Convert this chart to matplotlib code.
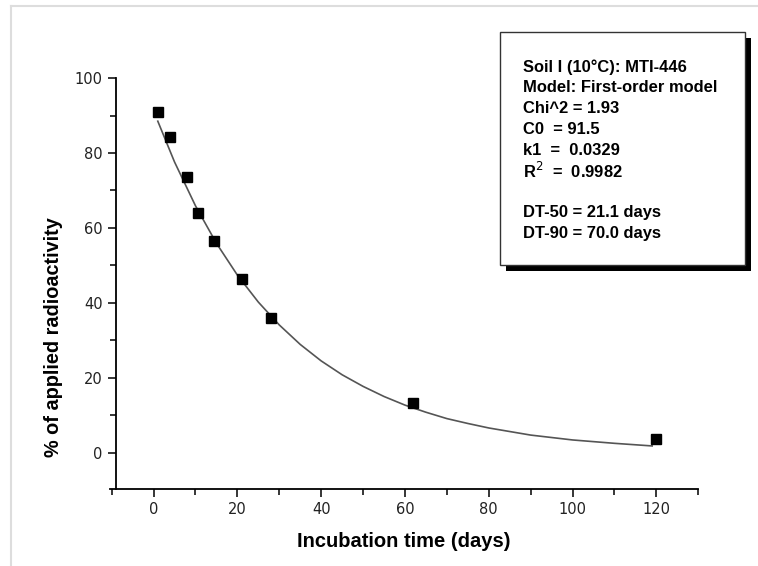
import matplotlib
matplotlib.use("Agg")
import matplotlib.pyplot as plt
from matplotlib.patches import Rectangle
from matplotlib.lines import Line2D

# measured residues (days, % of applied radioactivity)
days = [1, 4, 8, 10.5, 14.5, 21, 28, 62, 120]
residue = [91.0, 84.3, 73.5, 63.9, 56.5, 46.3, 36.0, 13.2, 3.6]

# fitted first-order curve
fit_days = [1, 5, 10, 15, 20, 25, 30, 35, 40, 45, 50, 55, 60, 65, 70, 75, 80, 90, 100, 110, 119]
fit_vals = [88.5, 77.6, 65.9, 55.9, 47.4, 40.2, 34.1, 28.9, 24.5, 20.8, 17.7, 15.0,
            12.7, 10.8, 9.1, 7.8, 6.6, 4.7, 3.4, 2.5, 1.8]

x_ticks = [0, 20, 40, 60, 80, 100, 120]
y_ticks = [0, 20, 40, 60, 80, 100]

info_lines = [
    "Soil I (10°C): MTI-446",
    "Model: First-order model",
    "Chi^2 = 1.93",
    "C0  = 91.5",
    "k1  =  0.0329",
    "R$^2$  =  0.9982",
    "",
    "DT-50 = 21.1 days",
    "DT-90 = 70.0 days",
]

fig = plt.figure(figsize=(7.58, 5.66), dpi=100)
ax = fig.add_axes([0.1446, 0.136, 0.7766, 0.726])

ax.plot(fit_days, fit_vals, color="#555555", linewidth=1.2, zorder=2)
ax.plot(days, residue, linestyle="none", marker="s", markersize=6.5,
        color="black", zorder=3)

ax.set_xlim(-10.5, 130)
ax.set_ylim(-9.7, 100)
ax.spines["left"].set_position(("data", -9))
ax.spines["top"].set_visible(False)
ax.spines["right"].set_visible(False)
for s in ["left", "bottom"]:
    ax.spines[s].set_linewidth(1.3)

ax.set_xticks(x_ticks)
ax.set_xticks(range(-10, 131, 10), minor=True)
ax.set_yticks(y_ticks)
ax.set_yticks(range(10, 100, 20), minor=True)
ax.tick_params(which="major", length=6, width=1.1, direction="out")
ax.tick_params(which="minor", length=4, width=1.1, direction="out")

tick_font = ["Liberation Sans Narrow", "DejaVu Sans"]
for lab in ax.get_xticklabels() + ax.get_yticklabels():
    lab.set_family(tick_font)
    lab.set_fontsize(10.5)
    lab.set_color("#222222")

label_font = ["Liberation Sans", "DejaVu Sans"]
ax.set_xlabel("Incubation time (days)", fontsize=14.5, fontweight="bold",
              family=label_font, labelpad=11)
ax.set_ylabel("% of applied radioactivity", fontsize=14.3, fontweight="bold",
              family=label_font)
ax.yaxis.set_label_coords(-0.079, 0.37)

# info box with drop shadow (figure pixel coords)
W, H = 758, 566
bx0, bx1, by0, by1 = 500, 745, 32, 265
fig.patches.append(Rectangle(((bx0 + 6) / W, 1 - (by1 + 6) / H), (bx1 - bx0) / W, (by1 - by0) / H,
                             transform=fig.transFigure, facecolor="black", edgecolor="none", zorder=1))
fig.patches.append(Rectangle((bx0 / W, 1 - by1 / H), (bx1 - bx0) / W, (by1 - by0) / H,
                             transform=fig.transFigure, facecolor="white", edgecolor="#333333",
                             linewidth=1.0, zorder=2))
for i, line in enumerate(info_lines):
    fig.text(523 / W, 1 - (67 + i * 20.8) / H, line, fontsize=11.9, fontweight="bold",
             family=label_font, va="center", ha="left", zorder=3)

# faint page frame
fig.add_artist(Line2D([11 / W, 11 / W], [0, 1 - 6 / H], transform=fig.transFigure,
                      color="#dddddd", linewidth=1.5))
fig.add_artist(Line2D([11 / W, 1], [1 - 6 / H, 1 - 6 / H], transform=fig.transFigure,
                      color="#dddddd", linewidth=1.5))

fig.savefig("out.png", dpi=100)
